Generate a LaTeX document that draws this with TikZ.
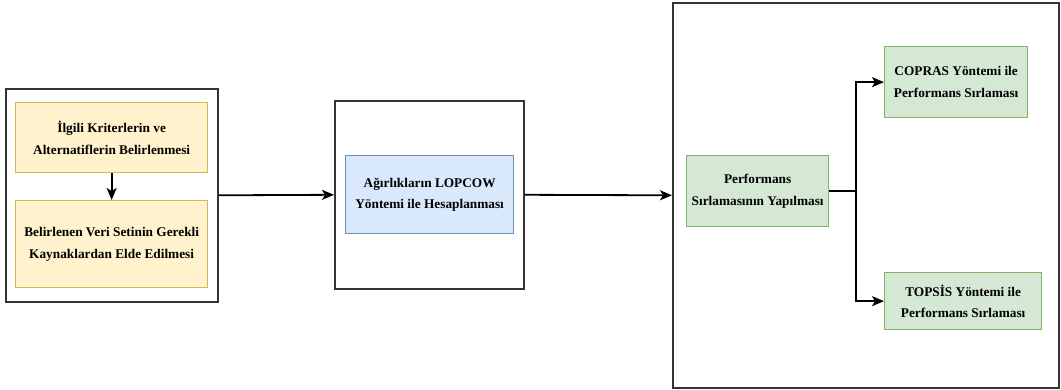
\documentclass[tikz,border=0pt]{standalone}
\usepackage{fontspec}
\setmainfont{Liberation Serif}
\usetikzlibrary{arrows.meta,positioning}
\definecolor{yfill}{HTML}{FFF2CC}\definecolor{ydraw}{HTML}{D6B656}
\definecolor{bfill}{HTML}{DAE8FC}\definecolor{bdraw}{HTML}{6C8EBF}
\definecolor{gfill}{HTML}{D5E8D4}\definecolor{gdraw}{HTML}{82B366}
\definecolor{frame}{HTML}{333333}
\begin{document}
\begin{tikzpicture}[x=1pt,y=-1pt,
  outer/.style={draw=frame,line width=1.6pt,fill=white,anchor=north west,inner sep=0pt},
  inbox/.style={line width=1.3pt,anchor=north west,inner sep=2pt,align=center,
    font=\fontsize{13.3}{21.5}\selectfont\bfseries},
  ybox/.style={inbox,draw=ydraw,fill=yfill},
  bbox/.style={inbox,draw=bdraw,fill=bfill},
  gbox/.style={inbox,draw=gdraw,fill=gfill},
  arr/.style={line width=1.8pt,-{Stealth[length=12pt,width=10pt,inset=3pt]}}]
\useasboundingbox (0,0) rectangle (1061,390);
\node[outer,minimum width=212pt,minimum height=213pt] (lo) at (5,88) {};
\node[ybox,minimum width=192pt,minimum height=70pt] (y1) at (15,102) {İlgili Kriterlerin ve\\Alternatiflerin Belirlenmesi};
\node[ybox,minimum width=192pt,minimum height=87pt] (y2) at (15,200) {Belirlenen Veri Setinin Gerekli\\Kaynaklardan Elde Edilmesi};
\node[outer,minimum width=189pt,minimum height=188pt] (mo) at (334,100) {};
\node[bbox,minimum width=168pt,minimum height=78pt] (b1) at (345,155) {Ağırlıkların LOPCOW\\Yöntemi ile Hesaplanması};
\node[outer,minimum width=386pt,minimum height=385pt] (ro) at (672,2) {};
\node[gbox,minimum width=142pt,minimum height=71pt] (g1) at (686,155) {Performans\\Sırlamasının Yapılması};
\node[gbox,minimum width=143pt,minimum height=71pt] (g2) at (884,46) {COPRAS Yöntemi ile\\Performans Sırlaması};
\node[gbox,minimum width=157pt,minimum height=57pt] (g3) at (884,272) {TOPSİS Yöntemi ile\\Performans Sırlaması};
\coordinate (br) at (856,0);
\draw[arr] (y1.south) -- (y2.north);
\draw[arr] (lo.east) -- (mo.west);
\draw[arr] (mo.east) -- (ro.west);
\draw[line width=1.8pt] (g1.east) -- (g1.east -| br);
\draw[arr] (g1.east -| br) |- (g2.west);
\draw[arr] (g1.east -| br) |- (g3.west);
\end{tikzpicture}
\end{document}
